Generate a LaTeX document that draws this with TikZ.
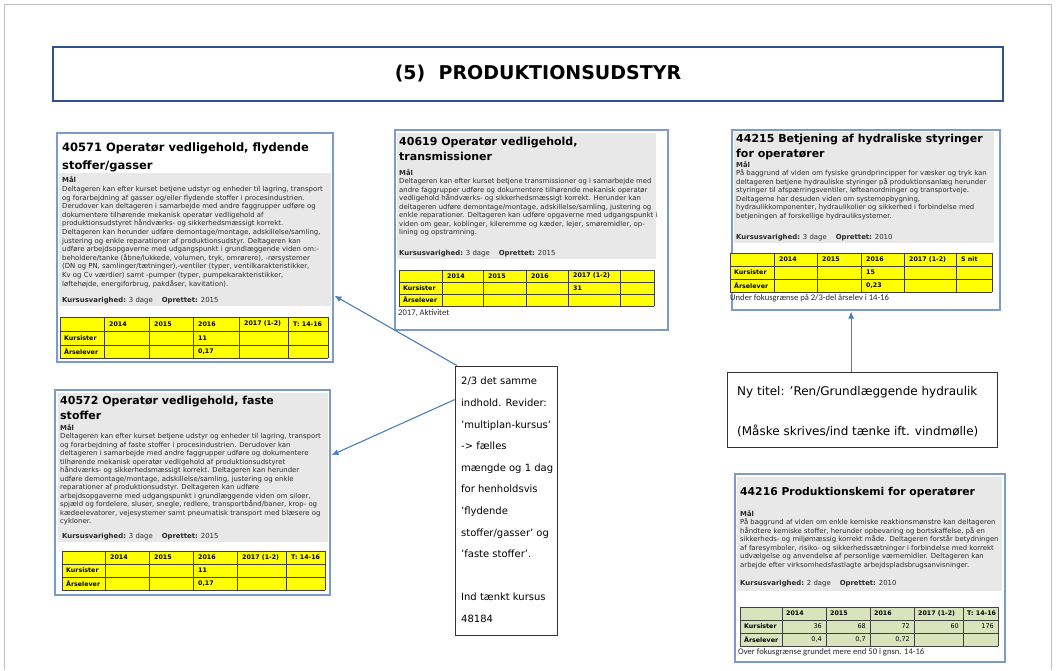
\documentclass[tikz,border=0pt]{standalone}
\usepackage{fontspec}
\setmainfont{DejaVu Sans}
\newfontfamily\calfont{Carlito}
\usetikzlibrary{arrows.meta}
\definecolor{boxline}{RGB}{125,155,200}
\definecolor{titleline}{RGB}{47,82,143}
\definecolor{panelgray}{RGB}{232,232,232}
\definecolor{tabyellow}{RGB}{255,255,0}
\definecolor{tabgreen}{RGB}{215,228,188}
\definecolor{arrowblue}{RGB}{74,126,187}
\definecolor{textgray}{RGB}{40,40,40}
\tikzset{
  coursebox/.style={draw=boxline, line width=1.1pt, inner sep=0, fill=white},
  ctitle/.style={anchor=north west, align=left, inner sep=0, font=\bfseries\fontsize{11}{15}\selectfont},
  cbody/.style={anchor=north west, align=left, inner sep=0, text=textgray, font=\fontsize{6.9}{8.5}\selectfont},
  cdur/.style={anchor=west, inner sep=0, text=textgray, font=\fontsize{6.9}{8}\selectfont},
  tgrid/.style={draw=black!75, line width=0.5pt},
  tcell/.style={anchor=west, inner sep=0, font=\bfseries\fontsize{6.3}{7}\selectfont},
  tnum/.style={anchor=east, inner sep=0, font=\fontsize{6.5}{7}\selectfont},
  tnote/.style={anchor=west, inner sep=0, text=textgray, font=\calfont\fontsize{8.6}{9}\selectfont},
  notebox/.style={draw=black!80, line width=0.8pt, fill=white, inner sep=0},
  notetext/.style={anchor=north west, align=left, inner sep=0},
  arr/.style={draw=arrowblue, line width=1.1pt, -{Latex[length=7pt,width=6pt]}, shorten >=1pt}
}
\begin{document}
\begin{tikzpicture}[x=1pt,y=-1pt]
\useasboundingbox (0,0) rectangle (1056,670);
\draw[black!25, line width=0.8pt] (4,670) -- (4,4) -- (1051,4) -- (1051,670);

\node[draw=titleline, line width=2pt, minimum width=950pt, minimum height=54pt, inner sep=0] (maintitle) at (528,74) {};
\node[font=\bfseries\fontsize{19}{22}\selectfont] (maintext) at ([xshift=10pt]maintitle.center) {(5)\ \ PRODUKTIONSUDSTYR};

% 40571
\node[coursebox, minimum width=276pt, minimum height=229pt] (k40571) at (195,247.5) {};
\fill[panelgray] (59,173) rectangle (331,306);
\node[ctitle, font=\bfseries\fontsize{11.5}{18}\selectfont] (t40571) at (62,142.5) {40571 Operatør vedligehold, flydende\\stoffer/gasser};
\node[cbody, font=\fontsize{6.9}{8.6}\selectfont] (b40571) at (62,176.5) {{\bfseries Mål}\\
Deltageren kan efter kurset betjene udstyr og enheder til lagring, transport\\
og forarbejdning af gasser og/eller flydende stoffer i procesindustrien.\\
Derudover kan deltageren i samarbejde med andre faggrupper udføre og\\
dokumentere tilhørende mekanisk operatør vedligehold af\\
produktionsudstyret håndværks- og sikkerhedsmæssigt korrekt.\\
Deltageren kan herunder udføre demontage/montage, adskillelse/samling,\\
justering og enkle reparationer af produktionsudstyr. Deltageren kan\\
udføre arbejdsopgaverne med udgangspunkt i grundlæggende viden om:-\\
beholdere/tanke (åbne/lukkede, volumen, tryk, omrørere), -rørsystemer\\
(DN og PN, samlinger/tætninger),-ventiler (typer, ventilkarakteristikker,\\
Kv og Cv værdier) samt -pumper (typer, pumpekarakteristikker,\\
løftehøjde, energiforbrug, pakdåser, kavitation).};
\node[cdur] (d40571) at (62,301) {\textbf{Kursusvarighed:} 3 dage\hspace{9pt}\textbf{Oprettet:} 2015};
\fill[tabyellow] (60,317) rectangle (328,358);
\foreach \x in {60,104,149,193,239,288,328} \draw[tgrid] (\x,317) -- (\x,358);
\foreach \y in {317,331,345,358} \draw[tgrid] (60,\y) -- (328,\y);
\foreach \x/\t [count=\i] in {104/2014,149/2015,193/2016,239/2017 (1-2),288/T: 14-16}
  \node[tcell] (ha\i) at (\x+5,324) {\t};
\node[tcell] (ra1) at (64,338) {Kursister};
\node[tcell] (ra2) at (64,351.5) {Årselever};
\node[tcell] (va1) at (198,338) {11};
\node[tcell] (va2) at (198,351.5) {0,17};

% 40619
\node[coursebox, minimum width=273pt, minimum height=200pt] (k40619) at (531.5,230) {};
\fill[panelgray] (397,133) rectangle (656,259);
\node[ctitle] (t40619) at (399,137) {40619 Operatør vedligehold,\\transmissioner};
\node[cbody] (b40619) at (399,169) {{\bfseries Mål}\\
Deltageren kan efter kurset betjene transmissioner og i samarbejde med\\
andre faggrupper udføre og dokumentere tilhørende mekanisk operatør\\
vedligehold håndværks- og sikkerhedsmæssigt korrekt. Herunder kan\\
deltageren udføre demontage/montage, adskillelse/samling, justering og\\
enkle reparationer. Deltageren kan udføre opgaverne med udgangspunkt i\\
viden om gear, koblinger, kileremme og kæder, lejer, smøremidler, op-\\
lining og opstramning.};
\node[cdur] (d40619) at (399,254) {\textbf{Kursusvarighed:} 3 dage\hspace{9pt}\textbf{Oprettet:} 2015};
\fill[tabyellow] (399,270) rectangle (654,306);
\foreach \x in {399,442,483,526,568,620,654} \draw[tgrid] (\x,270) -- (\x,306);
\foreach \y in {270,282,294,306} \draw[tgrid] (399,\y) -- (654,\y);
\foreach \x/\t [count=\i] in {442/2014,483/2015,526/2016,568/2017 (1-2)}
  \node[tcell] (hb\i) at (\x+5,276) {\t};
\node[tcell] (rb1) at (403,288) {Kursister};
\node[tcell] (rb2) at (403,300) {Årselever};
\node[tcell] (vb1) at (573,288) {31};
\node[tnote] (n40619) at (398,313.5) {2017, Aktivitet};

% 44215
\node[coursebox, minimum width=268pt, minimum height=180pt] (k44215) at (866,220) {};
\fill[panelgray] (734,132) rectangle (994,243);
\node[ctitle] (t44215) at (736,134) {44215 Betjening af hydraliske styringer\\for operatører};
\node[cbody] (b44215) at (736,161) {{\bfseries Mål}\\
På baggrund af viden om fysiske grundprincipper for væsker og tryk kan\\
deltageren betjene hydrauliske styringer på produktionsanlæg herunder\\
styringer til afspærringsventiler, løfteanordninger og transportveje.\\
Deltagerne har desuden viden om systemopbygning,\\
hydraulikkomponenter, hydraulikolier og sikkerhed i forbindelse med\\
betjeningen af forskellige hydrauliksystemer.};
\node[cdur] (d44215) at (736,238) {\textbf{Kursusvarighed:} 3 dage\hspace{9pt}\textbf{Oprettet:} 2010};
\fill[tabyellow] (730,253) rectangle (992,292);
\foreach \x in {730,774,817,861,904,956,992} \draw[tgrid] (\x,253) -- (\x,292);
\foreach \y in {253,266,279,292} \draw[tgrid] (730,\y) -- (992,\y);
\foreach \x/\t [count=\i] in {774/2014,817/2015,861/2016,904/2017 (1-2),956/S nit}
  \node[tcell] (hc\i) at (\x+5,259.5) {\t};
\node[tcell] (rc1) at (734,272.5) {Kursister};
\node[tcell] (rc2) at (734,285.5) {Årselever};
\node[tcell] (vc1) at (866,272.5) {15};
\node[tcell] (vc2) at (866,285.5) {0,23};
\node[tnote] (n44215) at (730,298.5) {Under fokusgrænse på 2/3-del årselev i 14-16};

% 40572
\node[coursebox, minimum width=275pt, minimum height=205pt] (k40572) at (192.5,492.5) {};
\fill[panelgray] (58,393) rectangle (328,542);
\node[ctitle] (t40572) at (60,396) {40572 Operatør vedligehold, faste\\stoffer};
\node[cbody] (b40572) at (60,424) {{\bfseries Mål}\\
Deltageren kan efter kurset betjene udstyr og enheder til lagring, transport\\
og forarbejdning af faste stoffer i procesindustrien. Derudover kan\\
deltageren i samarbejde med andre faggrupper udføre og dokumentere\\
tilhørende mekanisk operatør vedligehold af produktionsudstyret\\
håndværks- og sikkerhedsmæssigt korrekt. Deltageren kan herunder\\
udføre demontage/montage, adskillelse/samling, justering og enkle\\
reparationer af produktionsudstyr. Deltageren kan udføre\\
arbejdsopgaverne med udgangspunkt i grundlæggende viden om siloer,\\
spjæld og fordelere, sluser, snegle, redlere, transportbånd/baner, krop- og\\
kædeelevatorer, vejesystemer samt pneumatisk transport med blæsere og\\
cykloner.};
\node[cdur] (d40572) at (62,537) {\textbf{Kursusvarighed:} 3 dage\hspace{9pt}\textbf{Oprettet:} 2015};
\fill[tabyellow] (62,551) rectangle (325,590);
\foreach \x in {62,105,149,193,237,286,325} \draw[tgrid] (\x,551) -- (\x,590);
\foreach \y in {551,564,577,590} \draw[tgrid] (62,\y) -- (325,\y);
\foreach \x/\t [count=\i] in {105/2014,149/2015,193/2016,237/2017 (1-2),286/T: 14-16}
  \node[tcell] (hd\i) at (\x+5,557.5) {\t};
\node[tcell] (rd1) at (66,570.5) {Kursister};
\node[tcell] (rd2) at (66,583.5) {Årselever};
\node[tcell] (vd1) at (198,570.5) {11};
\node[tcell] (vd2) at (198,583.5) {0,17};

% 44216
\node[coursebox, minimum width=270pt, minimum height=188pt] (k44216) at (870,568) {};
\fill[panelgray] (737,477) rectangle (1002,591);
\node[ctitle, font=\bfseries\fontsize{10.8}{15}\selectfont] (t44216) at (740,487) {44216 Produktionskemi for operatører};
\node[cbody] (b44216) at (740,510) {{\bfseries Mål}\\
På baggrund af viden om enkle kemiske reaktionsmønstre kan deltageren\\
håndtere kemiske stoffer, herunder opbevaring og bortskaffelse, på en\\
sikkerheds- og miljømæssig korrekt måde. Deltageren forstår betydningen\\
af faresymboler, risiko- og sikkerhedssætninger i forbindelse med korrekt\\
udvælgelse og anvendelse af personlige værnemidler. Deltageren kan\\
arbejde efter virksomhedsfastlagte arbejdspladsbrugsanvisninger.};
\node[cdur] (d44216) at (740,584) {\textbf{Kursusvarighed:} 2 dage\hspace{9pt}\textbf{Oprettet:} 2010};
\fill[tabgreen] (740,607) rectangle (998,646);
\foreach \x in {740,782,826,870,914,963,998} \draw[tgrid] (\x,607) -- (\x,646);
\foreach \y in {607,620,633,646} \draw[tgrid] (740,\y) -- (998,\y);
\foreach \x/\t [count=\i] in {782/2014,826/2015,870/2016,914/2017 (1-2),963/T: 14-16}
  \node[tcell] (he\i) at (\x+4,613.5) {\t};
\node[tcell] (re1) at (744,626.5) {Kursister};
\node[tcell] (re2) at (744,639.5) {Årselever};
\foreach \x/\t [count=\i] in {826/36,870/68,914/72,963/60,998/176}
  \node[tnum] (ve\i) at (\x-4,626.5) {\t};
\foreach \x/\t [count=\i] in {826/{0,4},870/{0,7},914/{0,72}}
  \node[tnum] (we\i) at (\x-4,639.5) {\t};
\node[tnote] (n44216) at (738,652.5) {Over fokusgrænse grundet mere end 50 i gnsn. 14-16};

% noter
\node[notebox, minimum width=102pt, minimum height=269pt] (note1) at (506,500.5) {};
\node[notetext, font=\fontsize{10}{21.6}\selectfont] (note1txt) at (461,377) {2/3 det samme\\
indhold. Revider:\\
’multiplan-kursus’\\
-> fælles\\
mængde og 1 dag\\
for henholdsvis\\
’flydende\\
stoffer/gasser’ og\\
’faste stoffer’.\\[21.6pt]
Ind tænkt kursus\\
48184};
\node[notebox, minimum width=270pt, minimum height=75pt] (note2) at (862,409.5) {};
\node[notetext, font=\fontsize{12}{20}\selectfont] (note2txt) at (737,386.5) {Ny titel: ’Ren/Grundlæggende hydraulik\\[20pt]
(Måske skrives/ind tænke ift. vindmølle)};

\draw[arr] (note1.110) -- (k40571.-19);
\draw[arr] (note1.117) -- (k40572.15);
\draw[arr] (note2.106) -- (note2.106 |- k44215.south);
\end{tikzpicture}
\end{document}
